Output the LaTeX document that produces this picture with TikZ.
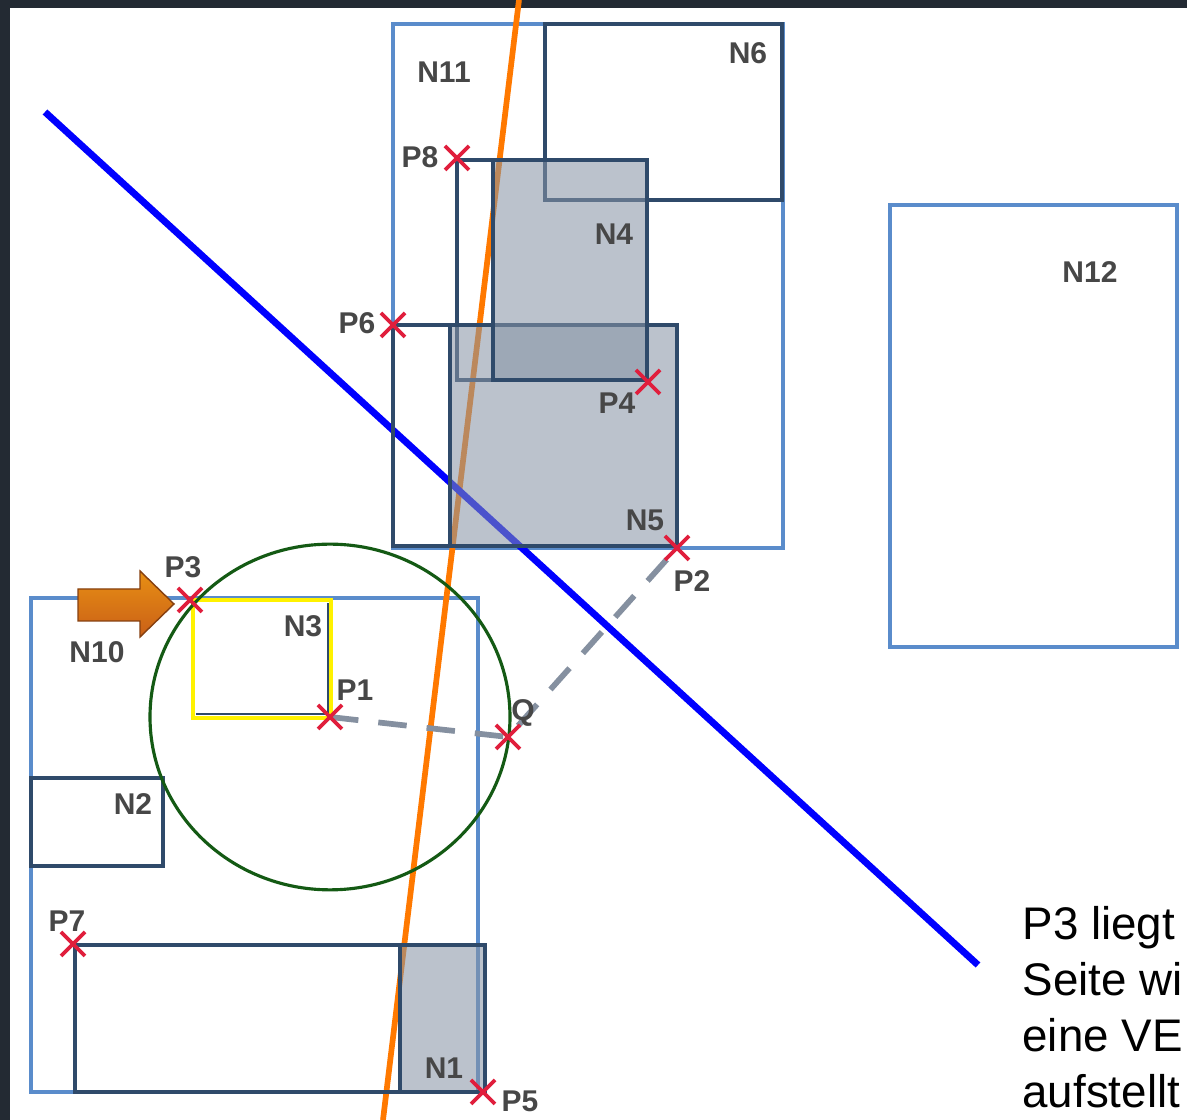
\documentclass[tikz,border=0pt]{standalone}
\usepackage{fontspec}
\setmainfont{Liberation Sans}
\definecolor{rahmen}{HTML}{232A33}
\definecolor{hellblau}{HTML}{5A8CCB}
\definecolor{dunkelblau}{HTML}{2F4A6A}
\definecolor{flaeche}{HTML}{8794A5}
\definecolor{kreuzrot}{HTML}{E01E3C}
\definecolor{strich}{HTML}{8590A0}
\definecolor{kreis}{HTML}{145A14}
\definecolor{pfeil}{HTML}{E06A1A}
\tikzset{
	knoten/.style={draw=hellblau, line width=1.6pt},
	innen/.style={draw=dunkelblau, line width=1.1pt},
	grau/.style={fill=flaeche, fill opacity=0.56, draw=dunkelblau, line width=1.1pt},
	kreuz/.style={draw=kreuzrot, line width=1.35pt},
	lbl/.style={text=black!72, font=\fontsize{10.5}{12}\selectfont\bfseries, inner sep=0pt},
}
\begin{document}
\begin{tikzpicture}[x=0.35pt, y=-0.35pt, >=latex]
			\useasboundingbox (0,0) rectangle (1187,1120);
			\clip (0,0) rectangle (1187,1120);
			\fill[rahmen] (0,0) rectangle (1187,1120);
			\fill[white] (10,8) rectangle (1187,1120);
			% Punkte
			\coordinate (P1) at (330,717);
			\coordinate (P2) at (677,548);
			\coordinate (P3) at (190,600);
			\coordinate (P4) at (648,382);
			\coordinate (P5) at (483,1092);
			\coordinate (P6) at (393,325);
			\coordinate (P7) at (73,944);
			\coordinate (P8) at (457,158);
			\coordinate (Q) at (508,737);
			% Knoten
			\draw[knoten] (393,24) rectangle (783,548);
			\draw[knoten] (31,598) rectangle (478,1092);
			\draw[knoten] (890,205) rectangle (1177,647);
			% Geraden
			\draw[orange!95!red, line width=2pt] (519,0) -- (383,1120);
			\draw[blue, line width=2.4pt] (45,112) -- (978,965);
			\draw[innen] (545,24) rectangle (782,200);
			\draw[innen] (457,160) rectangle (647,380);
			\draw[innen] (393,325) rectangle (677,546);
			\draw[grau] (450,325) rectangle (677,546);
			\draw[grau] (493,160) rectangle (647,380);
			\draw[innen] (31,778) rectangle (163,866);
			\draw[innen] (75,945) rectangle (485,1092);
			\draw[grau] (400,945) rectangle (485,1092);
			\draw[dunkelblau, line width=0.6pt] (196,714) -- (328,714) -- (328,603);
			\draw[yellow, line width=1.6pt] (193,600) rectangle (331,718);
			\draw[kreis, line width=1.1pt] (P1) ellipse [x radius=63pt, y radius=60.5pt];
			\draw[strich, line width=2pt, dash pattern=on 10pt off 7pt] (P1) -- (Q) -- (P2);
			\shade[top color=pfeil!75!yellow, bottom color=pfeil!90!black, draw=pfeil!60!black, line width=0.5pt]
				(78,589) -- (140,589) -- (140,571) -- (174,604) -- (140,637) -- (140,621) -- (78,621) -- cycle;
			\foreach \p in {P1,P2,P3,P4,P5,P6,P7,P8,Q}
				\draw[kreuz] (\p) ++(-12,-12) -- ++(24,24) ++(0,-24) -- ++(-24,24);
			\foreach \n/\x/\y in {N11/444/72, N6/748/53, N4/614/234, N5/645/520, N12/1090/272,
					N10/97/652, N3/303/626, N2/133/804, N1/444/1068,
					P8/420/157, P6/357/323, P4/617/403, P2/692/581, P3/183/567,
					P1/355/690, Q/523/713, P7/67/921, P5/520/1101}
				\node[lbl] (l\n) at (\x,\y) {\n};
			\node[anchor=north west, inner sep=0pt, align=left, font=\fontsize{16}{19.6}\selectfont] (hinweis) at (1022,906)
				{P3 liegt\\Seite wi\\eine VE\\aufstellt};
		\end{tikzpicture}
\end{document}
